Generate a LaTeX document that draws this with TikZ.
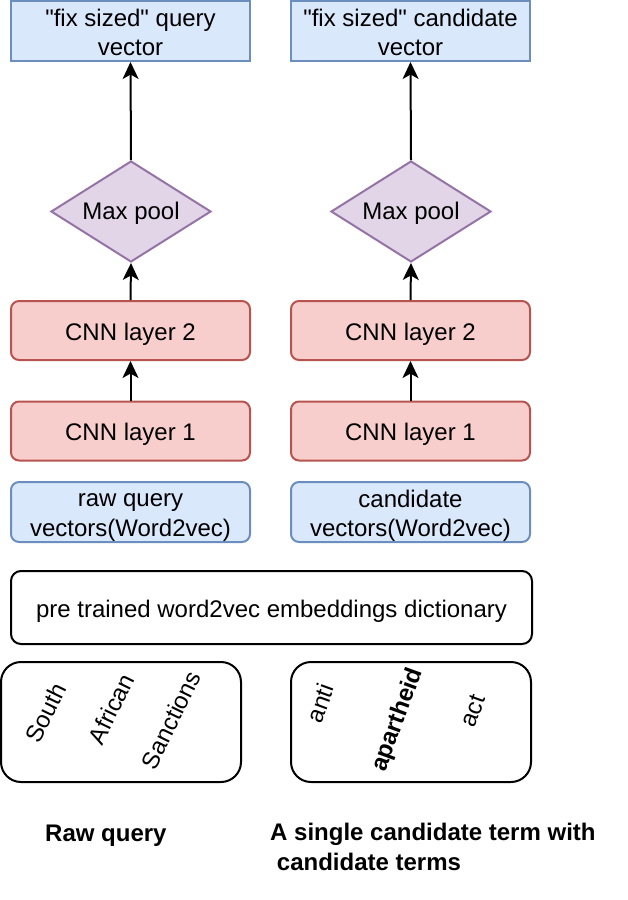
\documentclass[tikz,border=0pt]{standalone}
\usepackage{fontspec}
\setmainfont{Liberation Sans}
\usetikzlibrary{shapes.geometric,arrows.meta}
\definecolor{bluefill}{HTML}{DAE8FC}
\definecolor{bluedraw}{HTML}{6C8EBF}
\definecolor{redfill}{HTML}{F8CECC}
\definecolor{reddraw}{HTML}{B85450}
\definecolor{purpfill}{HTML}{E1D5E7}
\definecolor{purpdraw}{HTML}{9673A6}
\newcommand\lnstrut{\rule[-4pt]{0pt}{28pt}}
\tikzset{
  base/.style={font=\fontsize{24}{27}\selectfont, align=center, inner sep=0pt},
  outbox/.style={base, draw=bluedraw, fill=bluefill, line width=2pt, minimum width=239pt, minimum height=60pt},
  vecbox/.style={base, draw=bluedraw, fill=bluefill, line width=2pt, rounded corners=8pt, minimum width=239pt, minimum height=60pt},
  cnnbox/.style={base, draw=reddraw, fill=redfill, line width=2pt, rounded corners=8pt, minimum width=239pt, minimum height=59pt},
  poolbox/.style={base, diamond, aspect=1.6, draw=purpdraw, fill=purpfill, line width=2pt, minimum width=160pt, minimum height=101pt},
  dictbox/.style={base, draw=black, line width=2pt, rounded corners=10pt, minimum width=521pt, minimum height=73pt},
  rawbox/.style={base, draw=black, line width=2pt, rounded corners=20pt, minimum width=240pt, minimum height=120pt},
  word/.style={base, font=\fontsize{24}{27}\selectfont},
  bword/.style={base, font=\fontsize{24}{27}\selectfont\bfseries},
  label/.style={base, align=left, font=\fontsize{24}{27}\selectfont\bfseries},
  flow/.style={line width=2pt, -{Stealth[length=17pt,width=16pt,inset=4.5pt]}}
}
\begin{document}
\begin{tikzpicture}[x=1pt,y=-1pt]
\path[use as bounding box] (0,0) rectangle (628,900);
% output vectors
\node[outbox] (qout) at (130.5,31) {\lnstrut\textquotedbl fix sized\textquotedbl{} query\\\lnstrut vector};
\node[outbox] (cout) at (410.5,31) {\lnstrut\textquotedbl fix sized\textquotedbl{} candidate\\\lnstrut vector};
% max pool
\node[poolbox] (qpool) at (131,211.5) {\rule[-6pt]{0pt}{27pt}Max pool};
\node[poolbox] (cpool) at (411,211.5) {\rule[-6pt]{0pt}{27pt}Max pool};
% CNN layers
\node[cnnbox] (qc2) at (130.5,330.5) {\lnstrut CNN layer 2};
\node[cnnbox] (cc2) at (410.5,330.5) {\lnstrut CNN layer 2};
\node[cnnbox] (qc1) at (130.5,431) {\lnstrut CNN layer 1};
\node[cnnbox] (cc1) at (410.5,431) {\lnstrut CNN layer 1};
% vectors
\node[vecbox] (qv) at (130.5,512) {\lnstrut raw query\\\lnstrut vectors(Word2vec)};
\node[vecbox] (cv) at (410.5,512) {\lnstrut candidate\\\lnstrut vectors(Word2vec)};
% dictionary
\node[dictbox] (dict) at (271.5,607.5) {\lnstrut pre trained word2vec embeddings dictionary};
% raw inputs
\node[rawbox] (qraw) at (121,722) {};
\node[rawbox] (craw) at (411,722) {};
\node[word, rotate=64] (w1) at (46,713) {South};
\node[word, rotate=64] (w2) at (111,709) {African};
\node[word, rotate=64] (w3) at (171,720) {Sanctions};
\node[word, rotate=70] (w4) at (320,703) {anti};
\node[bword, rotate=70] (w5) at (398,720) {apartheid};
\node[word, rotate=70] (w6) at (473,711) {act};
% labels
\node[label, anchor=west] (lq) at (45,832) {\lnstrut Raw query};
\node[label, anchor=west] (lc) at (270,845.5) {\lnstrut A single candidate term with\\\lnstrut\hspace{0.28em}candidate terms};
% arrows
\draw[flow] (qpool.north) -- (qout.south);
\draw[flow] (cpool.north) -- (cout.south);
\draw[flow] (qc2.north) -- (qpool.south);
\draw[flow] (cc2.north) -- (cpool.south);
\draw[flow] (qc1.north) -- (qc2.south);
\draw[flow] (cc1.north) -- (cc2.south);
\end{tikzpicture}
\end{document}
